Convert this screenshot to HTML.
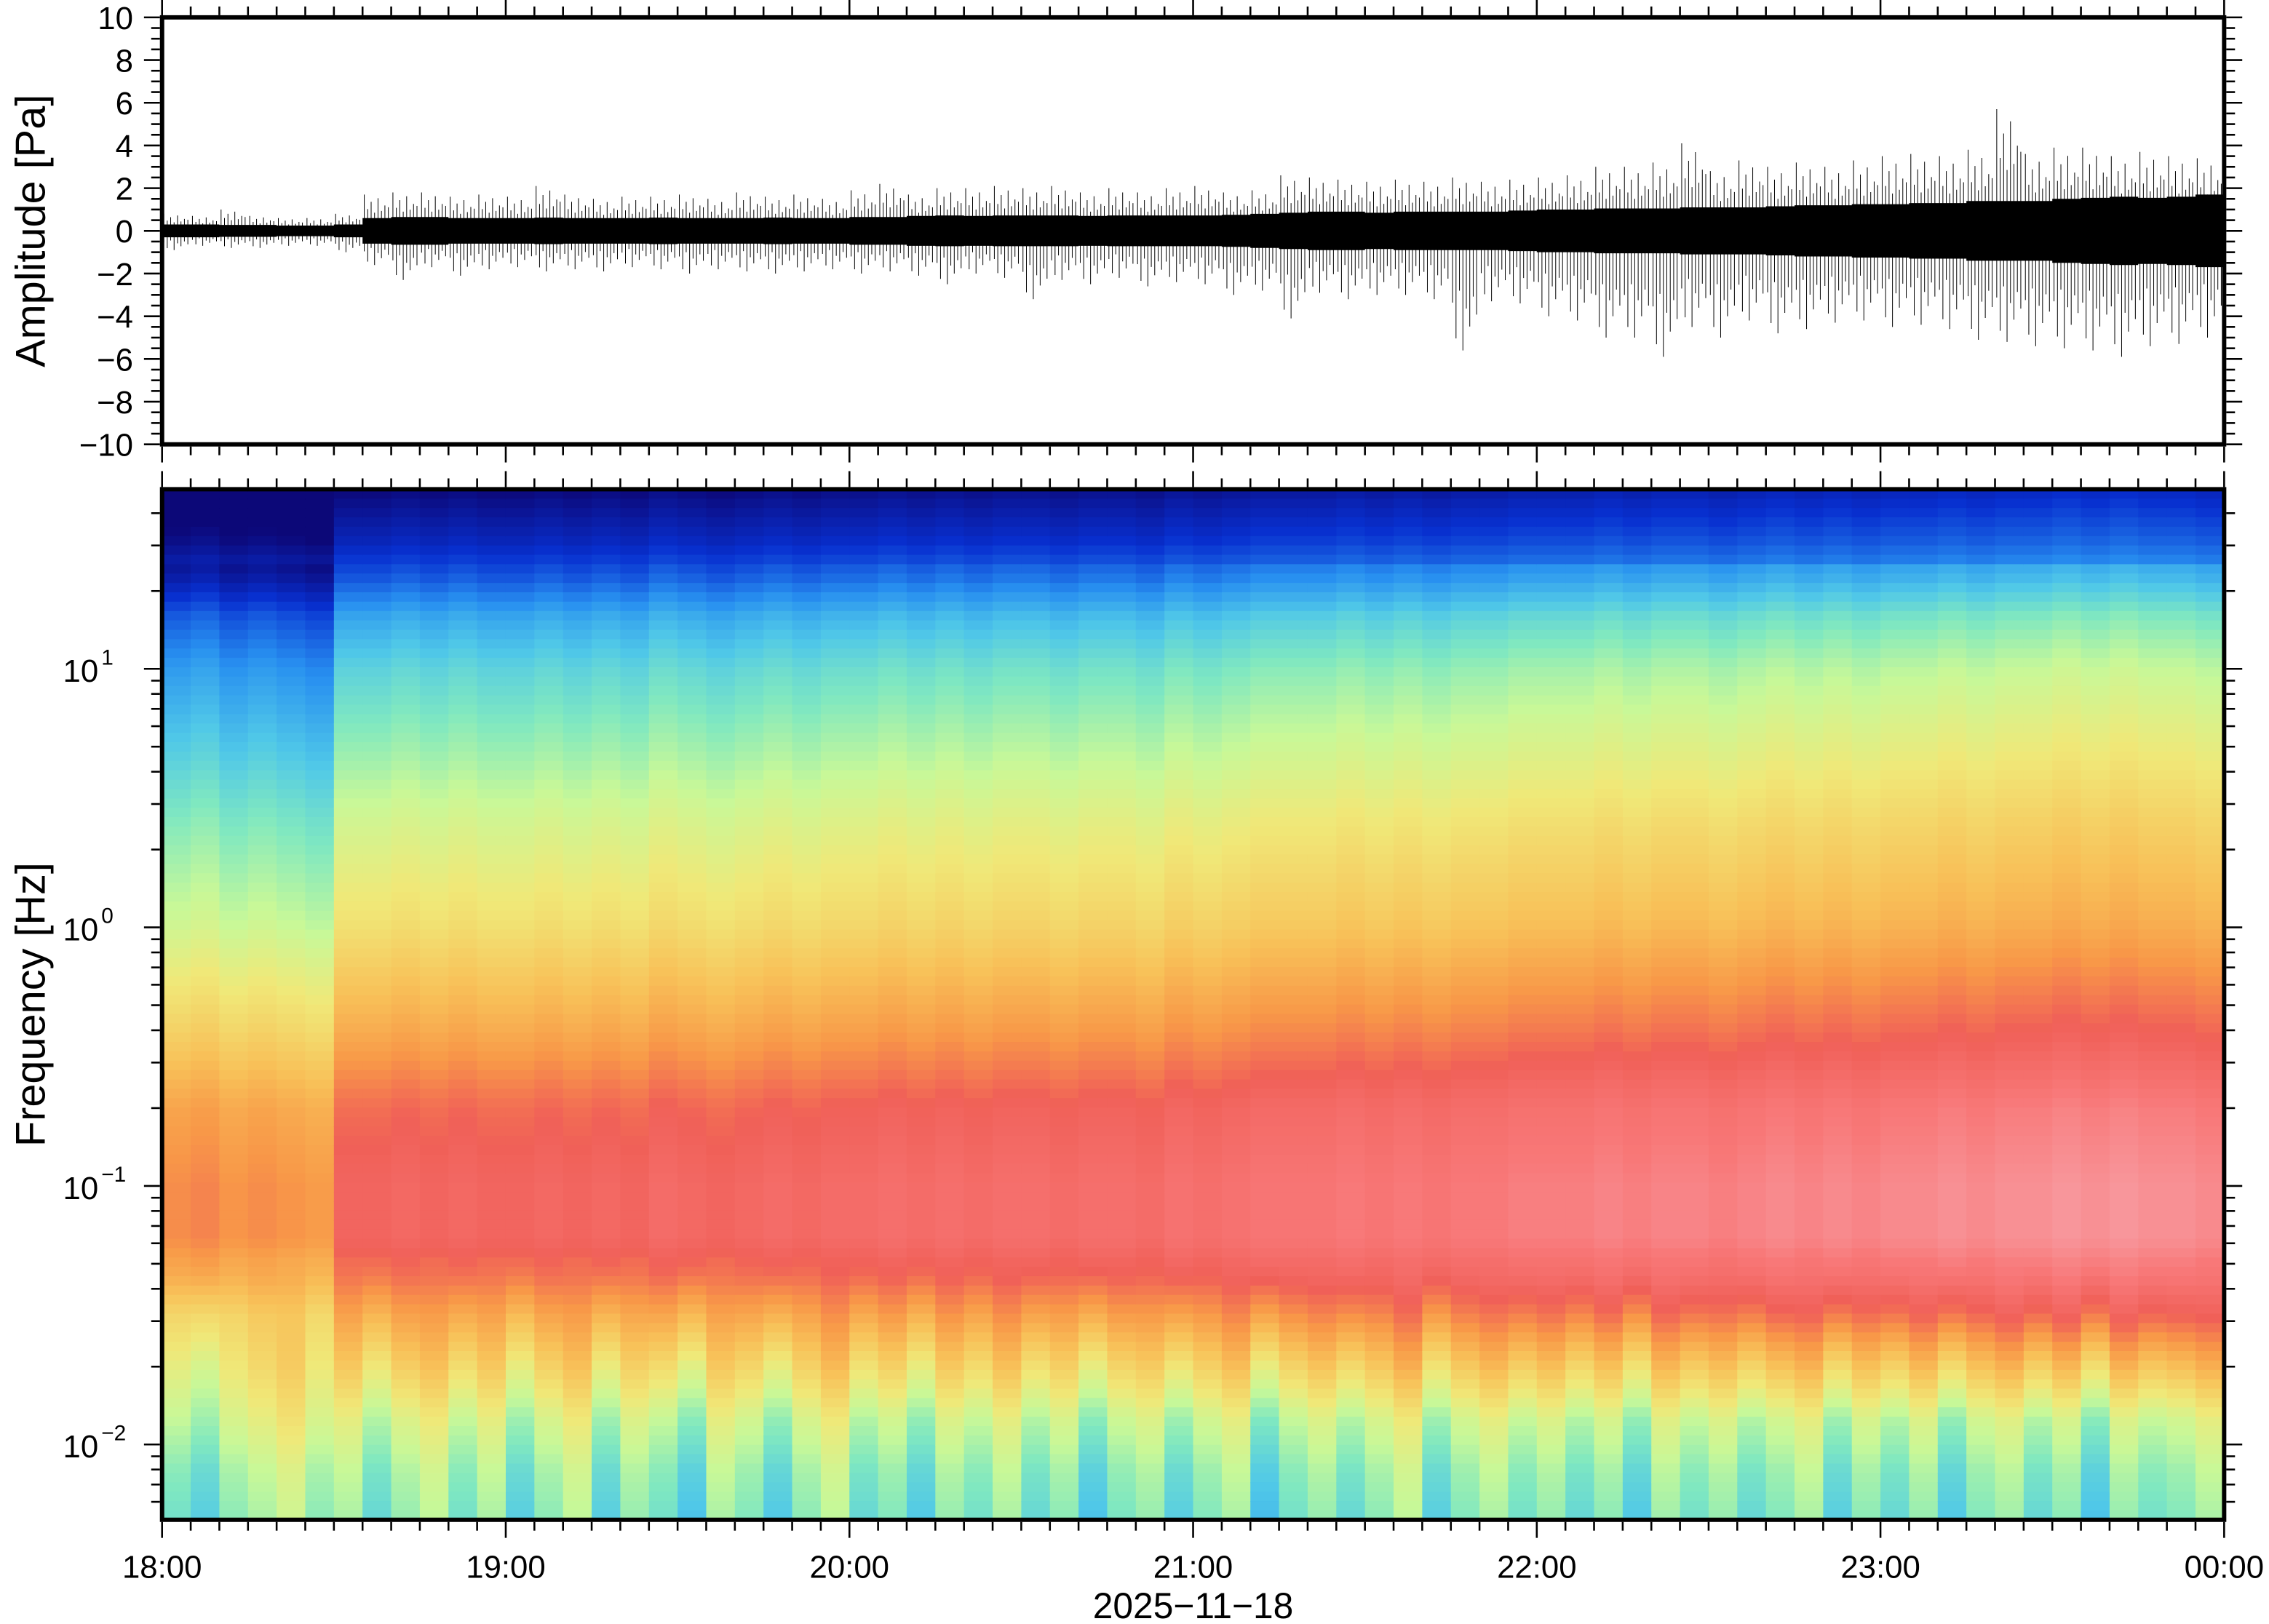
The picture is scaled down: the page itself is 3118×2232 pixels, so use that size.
<!DOCTYPE html>
<html><head><meta charset="utf-8"><style>
html,body{margin:0;padding:0;background:#fff}
svg{display:block}
text{font-family:"Liberation Sans",Arial,sans-serif;fill:#000}
</style></head><body>
<svg id="fig" width="3118" height="2232" viewBox="0 0 1568 1122" preserveAspectRatio="none" xmlns="http://www.w3.org/2000/svg">
<g id="wave"></g>
<g id="spec"></g>
<g id="axes"></g>
</svg>
<script>
// ---- data ----
const hourLabels=["18:00","19:00","20:00","21:00","22:00","23:00","00:00"];
const ampTicks=[-10,-8,-6,-4,-2,0,2,4,6,8,10];
const freqDecades=[-2,-1,0,1];
// waveform: 72 five-minute bins
const coreAmp=[0.3,0.3,0.28,0.28,0.25,0.25,0.3,0.6,0.65,0.65,0.6,0.6,0.6,0.62,0.6,0.6,0.6,0.62,0.6,0.6,0.6,0.62,0.6,0.6,
0.65,0.65,0.7,0.72,0.7,0.72,0.72,0.72,0.7,0.72,0.72,0.72,0.72,0.75,0.8,0.85,0.9,0.9,0.85,0.9,0.9,0.9,0.9,0.95,
1.0,1.0,1.05,1.05,1.05,1.1,1.1,1.1,1.15,1.2,1.2,1.25,1.25,1.3,1.3,1.4,1.4,1.4,1.5,1.55,1.6,1.55,1.6,1.7];
const peakPos=[0.8,0.7,1.0,0.7,0.6,0.6,0.8,1.7,1.8,1.8,1.6,1.7,1.6,2.1,1.7,1.5,1.6,1.6,1.7,1.5,1.8,1.6,1.7,1.5,
1.9,2.2,1.7,2.0,2.0,2.1,2.0,2.1,1.8,2.0,1.8,2.0,2.1,1.8,1.9,2.6,2.5,2.4,2.3,2.4,2.3,2.5,2.3,2.4,
2.5,2.6,3.0,3.0,3.2,4.1,2.8,3.3,3.0,3.2,3.0,3.3,3.5,3.6,3.5,3.8,5.7,3.6,3.9,3.9,3.5,3.7,3.5,3.4];
const peakNeg=[-0.9,-0.7,-0.8,-0.8,-0.7,-0.7,-1.0,-1.6,-2.3,-1.7,-2.1,-1.8,-1.7,-1.9,-1.8,-1.9,-1.7,-1.8,-2.0,-1.8,-1.9,-2.0,-1.9,-1.8,
-2.0,-1.9,-2.1,-2.5,-2.0,-2.2,-3.2,-2.3,-2.5,-2.2,-2.6,-2.4,-2.5,-3.0,-2.8,-4.1,-2.9,-3.2,-3.0,-3.0,-3.2,-5.6,-3.3,-3.4,
-4.0,-4.2,-5.0,-5.0,-5.9,-4.5,-5.0,-4.2,-4.8,-4.6,-4.3,-4.2,-4.5,-4.4,-4.6,-5.1,-5.2,-5.4,-5.5,-5.6,-5.9,-5.4,-5.3,-5.0];
// spectrogram: frequency profile (log10 f -> level) and per-column modulation
const profLogF=[1.7,1.5,1.35,1.2,1.0,0.7,0.4,0.0,-0.4,-0.7,-1.0,-1.2,-1.35,-1.5,-1.7,-1.9,-2.1,-2.3];
const profLevel=[0.0,0.07,0.14,0.23,0.30,0.37,0.44,0.52,0.64,0.74,0.78,0.78,0.72,0.62,0.50,0.40,0.34,0.31];
const colLevel=[-0.07,-0.06,-0.08,-0.07,-0.08,-0.09,0.0,0.0,0.01,0.0,0.01,0.0,0.0,0.01,0.0,0.01,0.0,0.02,0.01,0.0,0.01,0.02,0.01,0.02,
0.02,0.03,0.02,0.03,0.02,0.03,0.03,0.02,0.03,0.03,0.02,0.04,0.03,0.04,0.05,0.05,0.05,0.06,0.05,0.06,0.05,0.06,0.06,0.07,
0.07,0.07,0.08,0.07,0.08,0.08,0.07,0.08,0.09,0.08,0.09,0.08,0.09,0.09,0.10,0.09,0.10,0.10,0.11,0.10,0.11,0.10,0.10,0.09];
const lowBand=[0.02,-0.02,0.05,0.08,0.12,0.05,0.08,0.0,0.06,0.1,0.02,0.08,-0.02,0.05,0.1,-0.02,0.06,0.02,-0.04,0.08,0.04,-0.03,0.05,0.1,
0.0,0.04,-0.03,0.06,0.02,0.08,0.0,0.05,-0.04,0.03,0.06,-0.02,0.04,0.08,-0.05,0.02,0.06,0.0,0.05,0.1,-0.02,0.04,0.08,0.02,
0.06,0.0,0.05,-0.03,0.07,0.02,0.06,0.0,0.04,0.08,-0.02,0.05,0.0,0.06,-0.03,0.04,0.07,0.0,0.05,-0.04,0.06,0.02,0.04,0.08];
const cmapV=[0,0.1,0.2,0.28,0.35,0.42,0.5,0.6,0.68,0.76,0.85,0.95];
const cmapC=["#0c0878","#0830d0","#2890f0","#50c8e8","#80e8c0","#c8f898","#f0e878","#f8c058","#f89848","#f06058","#f87878","#f8a8b0"];

// ---- layout ----
const X0=112,X1=1537,WT=12,WB=307,ST=338,SB=1050;
const NS="http://www.w3.org/2000/svg";
const xOf=h=>X0+h/6*(X1-X0);
const yAmp=a=>WT+(10-a)/20*(WB-WT);
const lfTop=1+(462-ST)/178.5, lfBot=-2-(SB-998)/178.5;
const yLF=lf=>ST+(lfTop-lf)/(lfTop-lfBot)*(SB-ST);
function mk(t,attrs,parent){const e=document.createElementNS(NS,t);for(const k in attrs)e.setAttribute(k,attrs[k]);parent.appendChild(e);return e;}
function interp(xs,ys,x){
  if(x>=xs[0])return ys[0]; for(let i=1;i<xs.length;i++){if(x>=xs[i]){const t=(x-xs[i])/(xs[i-1]-xs[i]);return ys[i]+t*(ys[i-1]-ys[i]);}} return ys[ys.length-1];}
function hex(c){return[parseInt(c.slice(1,3),16),parseInt(c.slice(3,5),16),parseInt(c.slice(5,7),16)];}
function cmap(v){v=Math.max(0,Math.min(0.95,v));for(let i=1;i<cmapV.length;i++){if(v<=cmapV[i]){const t=(v-cmapV[i-1])/(cmapV[i]-cmapV[i-1]);const a=hex(cmapC[i-1]),b=hex(cmapC[i]);return"rgb("+a.map((x,j)=>Math.round(x+t*(b[j]-x))).join(",")+")";}}return cmapC[cmapC.length-1];}

// ---- waveform ----
const wave=document.getElementById('wave');
const nb=coreAmp.length, bw=6/nb;
const upPts=[],loPts=[];
for(let i=0;i<nb;i++){const xa=xOf(i*bw),xb=xOf((i+1)*bw);upPts.push(xa+","+yAmp(coreAmp[i]),xb+","+yAmp(coreAmp[i]));loPts.push(xa+","+yAmp(-coreAmp[i]),xb+","+yAmp(-coreAmp[i]));}
loPts.reverse();
const core=mk('polygon',{points:upPts.concat(loPts).join(' '),fill:'#000'},wave);


const spikeF=[1,0.6,0.8,0.5,0.9,0.55,0.7,0.65];
const spikeG=[0.6,0.9,0.5,1,0.65,0.8,0.55,0.7];
for(let i=0;i<nb;i++){
  for(let k=0;k<8;k++){
    const x=xOf((i+0.06+k*0.12)*bw);
    const l=mk('line',{x1:x,x2:x,y1:yAmp(peakPos[i]*spikeF[k]),y2:yAmp(peakNeg[i]*spikeG[k]),stroke:'#000','stroke-width':0.5},wave);
    
    
  }
}

// ---- spectrogram ----
const spec=document.getElementById('spec');
const NR=110, nc=colLevel.length;
for(let c=0;c<nc;c++){
  const xa=xOf(c*6/nc), xb=xOf((c+1)*6/nc);
  for(let r=0;r<NR;r++){
    const lf=lfTop-(r+0.5)/NR*(lfTop-lfBot);
    let v=interp(profLogF,profLevel,lf);
    const w1=lf>1.4?0.8:(lf>-1.5?1.2:Math.max(0,1.2*(lf+1.9)/0.4));
    const w2=lf<-1.3?Math.min(1,(-1.3-lf)/0.4):0;
    v+=colLevel[c]*w1+lowBand[c]*w2;
    const ya=ST+r/NR*(SB-ST), yb=ST+(r+1)/NR*(SB-ST);
    const rc=mk('rect',{x:xa,y:ya,width:xb-xa+0.5,height:yb-ya+0.5,fill:cmap(v)},spec);
    
    
  }
}

// ---- axes ----
const ax=document.getElementById('axes');
function frame(y0,y1,name){const r=mk('rect',{x:X0,y:y0,width:X1-X0,height:y1-y0,fill:'none',stroke:'#000','stroke-width':3},ax);}
frame(WT,WB,'waveform-frame');frame(ST,SB,'spectrogram-frame');
function tick(xa,ya,xb,yb){mk('line',{x1:xa,y1:ya,x2:xb,y2:yb,stroke:'#000','stroke-width':1.3},ax);}
for(let m=0;m<=72;m++){const x=xOf(m/12);const L=m%12===0?11:6;
  tick(x,WT-1.5,x,WT-1.5-L);tick(x,WB+1.5,x,WB+1.5+L);tick(x,ST-1.5,x,ST-1.5-L);tick(x,SB+1.5,x,SB+1.5+L);}
hourLabels.forEach((s,i)=>{const t=mk('text',{x:xOf(i),y:1090,'font-size':22,'text-anchor':'middle'},ax);t.textContent=s;});
const xt=mk('text',{x:xOf(3),y:1118,'font-size':25,'text-anchor':'middle'},ax);xt.textContent='2025\u221211\u221218';


for(let a=-10;a<=10;a+=0.5){const y=yAmp(a);const L=(a%2===0)?11:6;tick(X0-1.5,y,X0-1.5-L,y);tick(X1+1.5,y,X1+1.5+L,y);}
ampTicks.forEach(a=>{const t=mk('text',{x:92,y:yAmp(a)+8,'font-size':22,'text-anchor':'end'},ax);t.textContent=(a<0?'\u2212':'')+Math.abs(a);});
const yt1=mk('text',{x:0,y:0,'font-size':29,'text-anchor':'middle',transform:'translate(31,'+((WT+WB)/2)+') rotate(-90)'},ax);yt1.textContent='Amplitude [Pa]';


for(let d=-3;d<=1;d++){for(let m=1;m<=9;m++){const lf=d+Math.log10(m);if(lf<lfBot||lf>lfTop)continue;const y=yLF(lf);const L=m===1?11:6;tick(X0-1.5,y,X0-1.5-L,y);tick(X1+1.5,y,X1+1.5+L,y);}}
freqDecades.forEach(d=>{const y=yLF(d);const t=mk('text',{x:68,y:y+9,'font-size':22,'text-anchor':'end'},ax);t.textContent='10';
  
  
  const s=mk('text',{x:70,y:y-3,'font-size':15,'text-anchor':'start'},ax);s.textContent=(d<0?'\u2212':'')+Math.abs(d);
  
  });
const yt2=mk('text',{x:0,y:0,'font-size':29,'text-anchor':'middle',transform:'translate(31,'+((ST+SB)/2)+') rotate(-90)'},ax);yt2.textContent='Frequency [Hz]';


</script>
</body></html>
